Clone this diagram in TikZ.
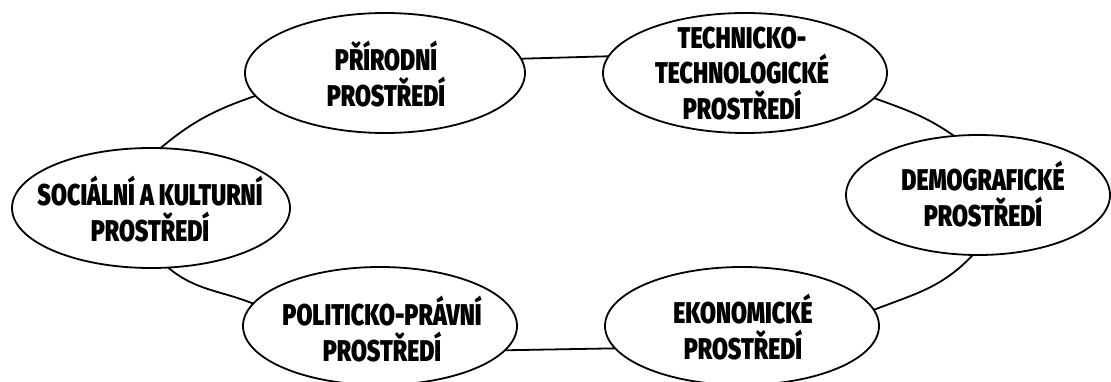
\documentclass[tikz,border=0pt]{standalone}
\usepackage{fontspec}
\usetikzlibrary{shapes.geometric}
% heavy condensed sans for the labels
\newfontfamily\envfont{Fira Sans Black}[FakeStretch=0.77]
\begin{document}
\begin{tikzpicture}[x=1pt,y=-1pt,
  env/.style={draw, ellipse, line width=1.8pt, fill=white, inner sep=0pt, outer sep=0pt},
  envtxt/.style={anchor=south, inner sep=0pt, align=center,
    font=\envfont\fontsize{30}{35.5}\selectfont},
  link/.style={line width=1.8pt}]
  \useasboundingbox (0,0) rectangle (1111,382);

  % connectors first, ellipses are filled on top
  \node[env, minimum width=280pt, minimum height=120pt] (pr) at (385,73) {};
  \node[env, minimum width=284pt, minimum height=120pt] (te) at (745,73) {};
  \node[env, minimum width=264pt, minimum height=120pt] (de) at (978,195) {};
  \node[env, minimum width=274pt, minimum height=118pt] (ek) at (742,326) {};
  \node[env, minimum width=274pt, minimum height=118pt] (po) at (380,326) {};
  \node[env, minimum width=278pt, minimum height=120pt] (so) at (151,208) {};

  \draw[link] (pr.6.8) -- (te.173.3);
  \draw[link] (te.349) to[out=-20, in=145] (de.112.6);
  \draw[link] (de.265) to[out=227, in=21] (ek.7.5);
  \draw[link] (ek.190.8) -- (po.349.4);
  \draw[link] (po.170.7) to[out=158, in=320] (so.286);
  \draw[link] (so.81.5) to[out=40, in=199] (pr.190.9);

  \node[envtxt] (prt) at (386,107) {PŘÍRODNÍ\\PROSTŘEDÍ};
  \node[envtxt] (tet) at (742,120) {TECHNICKO-\\TECHNOLOGICKÉ\\PROSTŘEDÍ};
  \node[envtxt] (det) at (983,227) {DEMOGRAFICKÉ\\PROSTŘEDÍ};
  \node[envtxt] (ekt) at (743,360) {EKONOMICKÉ\\PROSTŘEDÍ};
  \node[envtxt] (pot) at (382,362) {POLITICKO-PRÁVNÍ\\PROSTŘEDÍ};
  \node[envtxt] (sot) at (150,242) {SOCIÁLNÍ A KULTURNÍ\\PROSTŘEDÍ};
\end{tikzpicture}
\end{document}
